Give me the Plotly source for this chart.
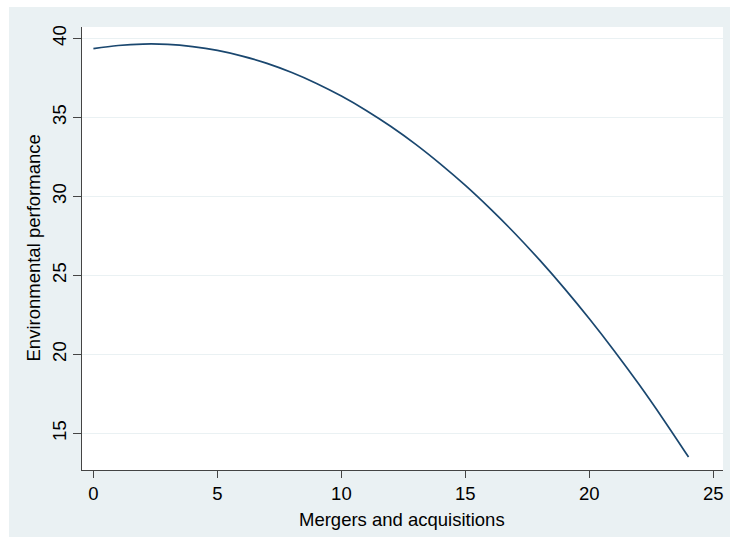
import plotly.graph_objects as go

# Data (estimated)
mergers = [0, 1, 2, 3, 4, 5, 6, 7, 8, 9, 10, 11, 12, 13, 14, 15, 16, 17, 18, 19, 20, 21, 22, 23, 24]
env_perf = [39.35, 39.55, 39.64, 39.62, 39.48, 39.24, 38.88, 38.42, 37.84, 37.15, 36.35,
            35.44, 34.42, 33.29, 32.04, 30.69, 29.22, 27.65, 25.96, 24.16, 22.25, 20.23,
            18.10, 15.85, 13.50]
x_ticks = [0, 5, 10, 15, 20, 25]
y_ticks = [15, 20, 25, 30, 35, 40]

FONT = "Liberation Sans, Arial, sans-serif"
BG = "#eaf1f3"

W, H = 730, 537
L, R, T, B = 82, 7, 27, 67
pw, ph = W - L - R, H - T - B

def px_x(px):
    return (px - L) / pw

def px_y(py):
    return (H - B - py) / ph

fig = go.Figure()
fig.add_trace(go.Scatter(
    x=mergers, y=env_perf, mode="lines",
    line=dict(color="#1a476f", width=1.7, shape="spline"),
    showlegend=False, hoverinfo="skip",
))

fig.update_layout(
    width=W, height=H,
    margin=dict(l=L, r=R, t=T, b=B),
    paper_bgcolor="white",
    plot_bgcolor="white",
    font=dict(family=FONT, size=18.5, color="black"),
    shapes=[
        dict(type="rect", xref="paper", yref="paper", layer="below",
             x0=px_x(9), x1=px_x(731), y0=px_y(538), y1=px_y(7),
             fillcolor=BG, line=dict(width=0)),
        dict(type="rect", xref="paper", yref="paper", layer="below",
             x0=0, x1=1, y0=0, y1=1,
             fillcolor="white", line=dict(width=0)),
    ],
    annotations=[
        dict(text="Mergers and acquisitions", xref="paper", yref="paper",
             x=px_x(401.5), y=px_y(519), xanchor="center", yanchor="middle",
             showarrow=False, font=dict(family=FONT, size=18.5, color="black")),
        dict(text="Environmental performance", xref="paper", yref="paper",
             x=px_x(33), y=0.5, xanchor="center", yanchor="middle", textangle=-90,
             showarrow=False, font=dict(family=FONT, size=18.5, color="black")),
    ],
)

fig.update_xaxes(
    range=[-0.46, 25.39], tickvals=x_ticks, ticktext=[str(v) for v in x_ticks],
    showgrid=False, zeroline=False,
    showline=True, linecolor="#444444", linewidth=1,
    ticks="outside", ticklen=7, tickcolor="#444444", tickwidth=1,
    tickfont=dict(family=FONT, size=18.5, color="black"),
)
fig.update_yaxes(
    range=[12.68, 40.72], tickvals=y_ticks, ticktext=[str(v) for v in y_ticks],
    showgrid=True, gridcolor=BG, gridwidth=1.2, zeroline=False,
    showline=True, linecolor="#444444", linewidth=1,
    ticks="outside", ticklen=8, tickcolor="#444444", tickwidth=1,
    tickangle=-90,
    tickfont=dict(family=FONT, size=18.5, color="black"),
)

fig.write_html("out.html",
               config={"displayModeBar": False, "staticPlot": True},
               post_script="document.body.style.margin='0';document.body.style.overflow='hidden';")
